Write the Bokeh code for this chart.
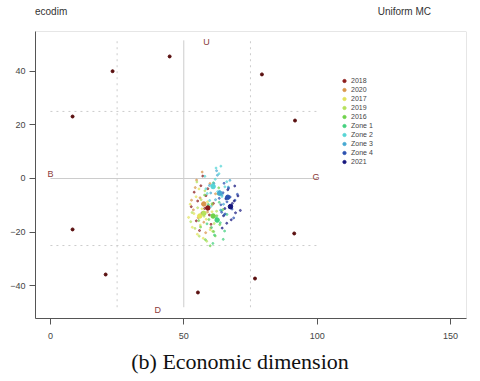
from bokeh.plotting import figure
from bokeh.models import Range1d, FixedTicker, Legend, LegendItem, BoxAnnotation, Div
from bokeh.layouts import column
from bokeh.embed import file_html
from bokeh.resources import INLINE

# ---- data ----
scen_x = [44.7, 23.3, 79.3, 8.3, 91.7, 8.3, 91.4, 20.7, 76.7, 55.3]
scen_y = [45.5, 40.0, 38.8, 23.1, 21.6, -19.0, -20.5, -35.8, -37.3, -42.5]

dir_labels = ["U", "B", "G", "D"]
dir_x = [58.5, 0.0, 99.6, 40.2]
dir_y = [50.9, 1.5, 0.4, -48.9]

groups = ["2018", "2020", "2017", "2019", "2016", "Zone 1", "Zone 2", "Zone 3", "Zone 4", "2021"]
colors = ["#8B1A1A", "#D9954A", "#E3E35A", "#B5E15A", "#6ED24A",
          "#43D17E", "#55D5D5", "#45A8D2", "#2A50B0", "#14147D"]

cloud_x = [
    [55.2, 57.8, 53.9, 59.6, 56.4, 61.1, 54.7, 58.3, 60.2, 52.8, 57.1, 55.9, 59.0, 56.8],
    [56.1, 58.9, 54.3, 60.7, 57.5, 53.6, 59.8, 55.4, 61.9, 58.2, 52.9, 56.9, 60.1, 54.8],
    [53.8, 56.2, 55.1, 58.4, 52.4, 57.3, 54.6, 59.9, 51.8, 56.8, 55.7, 58.9, 53.2, 60.6],
    [57.6, 54.2, 59.3, 55.8, 61.4, 53.1, 58.6, 56.5, 60.8, 52.6, 57.9, 55.2, 62.3, 54.9],
    [59.4, 61.2, 57.2, 63.5, 58.1, 60.6, 56.3, 62.4, 59.9, 64.7, 57.8, 61.8, 55.6, 63.1],
    [62.2, 60.4, 64.1, 61.5, 63.7, 59.2, 65.3, 62.9, 60.9, 66.2, 61.1, 63.3, 58.7, 64.8],
    [60.6, 63.2, 58.8, 62.1, 65.4, 59.7, 61.8, 64.3, 57.9, 63.9, 60.2, 66.1, 62.7, 58.3],
    [63.4, 61.3, 65.8, 62.6, 64.9, 60.1, 66.7, 63.8, 61.9, 67.3, 59.6, 65.2, 62.3, 64.4],
    [66.2, 64.7, 68.1, 65.5, 67.4, 63.9, 69.2, 66.8, 64.2, 68.7, 65.1, 67.9, 63.3, 70.1],
    [67.3, 65.8, 69.4, 66.5, 68.2, 64.9, 70.3, 67.8, 65.4, 69.1, 66.1, 68.9, 64.4, 71.2],
]
cloud_y = [
    [-8.4, -11.2, -5.1, -13.6, -2.7, -9.3, -15.8, -6.4, -17.1, -10.5, 0.9, -19.4, -3.8, -12.9],
    [-7.2, -12.5, -3.4, -9.8, -16.3, -11.7, -1.9, -14.6, -5.7, -20.2, -8.1, 2.4, -18.4, -0.6],
    [-13.1, -17.4, -20.8, -15.2, -9.6, -22.3, -6.8, -19.1, -14.5, -11.3, -3.9, -8.7, -18.2, -12.4],
    [-14.1, -18.6, -10.2, -21.5, -16.8, -12.7, -23.4, -7.9, -19.7, -16.1, -4.6, -10.9, -12.2, -1.3],
    [-15.3, -19.8, -12.6, -17.2, -22.8, -9.4, -18.1, -13.9, -25.1, -11.6, -6.2, -21.4, -15.7, -3.5],
    [-14.8, -18.3, -11.9, -21.1, -16.5, -9.7, -19.6, -5.8, -24.2, -13.4, -1.6, -8.9, -16.9, -22.7],
    [-2.4, 1.8, -5.6, 3.9, -3.1, -8.2, -0.3, -6.7, 0.8, 4.6, -10.4, -1.2, -4.9, -3.8],
    [-4.8, -1.9, -7.3, 1.2, -9.6, -5.4, -3.2, -11.8, -7.9, -0.7, -2.6, -13.5, 2.9, -6.1],
    [-8.7, -5.3, -11.4, -13.2, -6.9, -9.8, -8.1, -3.6, -12.6, -14.7, -1.8, -10.2, -7.4, -5.9],
    [-10.1, -7.6, -12.8, -4.2, -9.3, -13.9, -6.5, -15.4, -11.2, -2.8, -16.7, -8.4, -18.5, -11.9],
]
mean_x = [59.0, 57.5, 56.0, 57.5, 61.0, 62.5, 61.0, 63.5, 66.5, 67.5]
mean_y = [-11.0, -9.5, -14.0, -13.0, -14.0, -15.5, -3.0, -5.5, -7.0, -10.5]

vline_x = [25, 50, 75]
vline_dash = ["dotted", "solid", "dotted"]
hline_y = [25, 0, -25]
hline_dash = ["dotted", "solid", "dotted"]
line_x_extent = [0, 100]
line_y_extent = [-48, 51.5]

x_ticks = [0, 50, 100, 150]
y_ticks = [-40, -20, 0, 20, 40]

# ---- header ----
header = Div(text=('<div style="display:flex;justify-content:space-between;'
                   'width:431px;padding-left:35px;font-family:\'Liberation Sans\';'
                   'font-size:10px;color:#333333;line-height:24px;">'
                   '<span>ecodim</span><span>Uniform MC</span></div>'),
             width=480, height=24, margin=0)

# ---- figure ----
p = figure(width=480, height=326, output_backend="svg", toolbar_location=None,
           x_range=Range1d(-5.6, 156), y_range=Range1d(-52.2, 54.8),
           min_border_left=35, min_border_right=14, min_border_top=7, min_border_bottom=32,
           margin=0)
p.grid.visible = False
p.outline_line_color = None
p.background_fill_color = "white"

for ax in (p.xaxis[0], p.yaxis[0]):
    ax.axis_line_color = "#555555"
    ax.major_tick_line_color = "#555555"
    ax.minor_tick_line_color = None
    ax.major_tick_in = 0
    ax.major_tick_out = 6
    ax.major_label_text_font = "Liberation Sans"
    ax.major_label_text_font_size = "9px"
    ax.major_label_text_color = "#444444"
p.xaxis.ticker = FixedTicker(ticks=x_ticks)
p.yaxis.ticker = FixedTicker(ticks=y_ticks)
p.xaxis.major_label_standoff = 8
p.yaxis.major_label_standoff = 4

p.add_layout(BoxAnnotation(fill_alpha=0, line_color="#555555", line_width=1))

# reference lines
for xv, d in zip(vline_x, vline_dash):
    p.segment(x0=xv, y0=line_y_extent[0], x1=xv, y1=line_y_extent[1],
              line_color="#cccccc", line_width=1, line_dash=d)
for yv, d in zip(hline_y, hline_dash):
    p.segment(x0=line_x_extent[0], y0=yv, x1=line_x_extent[1], y1=yv,
              line_color="#cccccc", line_width=1, line_dash=d)

# scenario points
p.scatter(scen_x, scen_y, size=3, color="#5a0f0f")

# direction labels
p.text(x=dir_x, y=dir_y, text=dir_labels, text_color="#8B3A3A",
       text_font_size="9px", text_align="center", text_baseline="middle")

# cloud
items = []
for c, xs, ys in zip(colors, cloud_x, cloud_y):
    p.scatter(xs, ys, size=2, color=c, alpha=0.6)
for g, c, mx, my in zip(groups, colors, mean_x, mean_y):
    r = p.scatter([mx], [my], size=4.5, color=c)
    items.append(LegendItem(label=g, renderers=[r]))

legend = Legend(items=items, location=(305, 152), spacing=0, padding=0,
                label_height=9, glyph_height=9, glyph_width=8, label_standoff=3,
                label_text_font="Liberation Sans", label_text_font_size="7px",
                label_text_color="#444444", border_line_color=None,
                background_fill_alpha=0, margin=0)
p.add_layout(legend, "center")

# ---- caption ----
caption = Div(text=('<div style="width:480px;text-align:center;font-family:\'Liberation Serif\';'
                    'font-size:22px;color:#111111;line-height:24px;">(b) Economic dimension</div>'),
              width=480, height=31, margin=0)

layout = column(header, p, caption, spacing=0)
open("out.html", "w").write(file_html(layout, INLINE))
